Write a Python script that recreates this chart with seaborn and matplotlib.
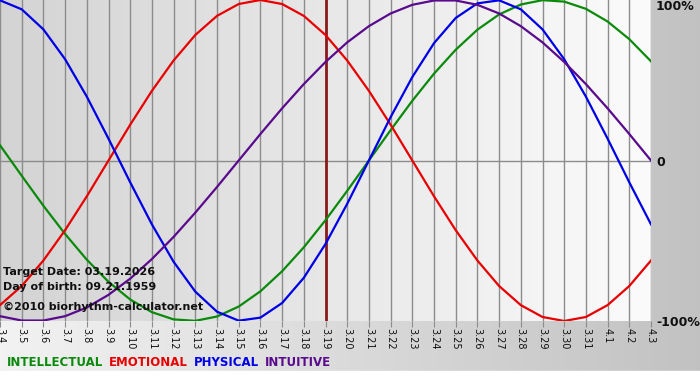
import numpy as np
import pandas as pd
import matplotlib
matplotlib.use('Agg')
import matplotlib.pyplot as plt
import seaborn as sns

# dates shown on the x axis (March 4 .. April 3)
dates = ['3.4', '3.5', '3.6', '3.7', '3.8', '3.9', '3.10', '3.11', '3.12', '3.13',
         '3.14', '3.15', '3.16', '3.17', '3.18', '3.19', '3.20', '3.21', '3.22', '3.23',
         '3.24', '3.25', '3.26', '3.27', '3.28', '3.29', '3.30', '3.31', '4.1', '4.2', '4.3']

# cycle values (fraction of 100%)
intellectual = [0.095, -0.095, -0.282, -0.458, -0.618, -0.756, -0.866, -0.945, -0.990, -0.999,
                -0.972, -0.910, -0.815, -0.690, -0.541, -0.372, -0.189, 0.0, 0.189, 0.372,
                0.541, 0.690, 0.815, 0.910, 0.972, 0.999, 0.990, 0.945, 0.866, 0.756, 0.618]
emotional = [-0.901, -0.782, -0.623, -0.434, -0.223, 0.0, 0.223, 0.434, 0.623, 0.782,
             0.901, 0.975, 1.0, 0.975, 0.901, 0.782, 0.623, 0.434, 0.223, 0.0,
             -0.223, -0.434, -0.623, -0.782, -0.901, -0.975, -1.0, -0.975, -0.901, -0.782, -0.623]
physical = [0.998, 0.942, 0.817, 0.631, 0.398, 0.136, -0.136, -0.398, -0.631, -0.817,
            -0.942, -0.998, -0.979, -0.888, -0.731, -0.520, -0.270, 0.0, 0.270, 0.520,
            0.731, 0.888, 0.979, 0.998, 0.942, 0.817, 0.631, 0.398, 0.136, -0.136, -0.398]
intuitive = [-0.970, -0.997, -0.997, -0.970, -0.916, -0.837, -0.736, -0.614, -0.476, -0.325,
             -0.165, 0.0, 0.165, 0.325, 0.476, 0.614, 0.736, 0.837, 0.916, 0.970,
             0.997, 0.997, 0.970, 0.916, 0.837, 0.736, 0.614, 0.476, 0.325, 0.165, 0.0]

target_label = '3.19'
cycles = ['INTELLECTUAL', 'EMOTIONAL', 'PHYSICAL', 'INTUITIVE']
colors = {'INTELLECTUAL': '#0a8a0a', 'EMOTIONAL': '#e80000',
          'PHYSICAL': '#0000e6', 'INTUITIVE': '#5a0a8c'}

# long table for seaborn
day = np.arange(len(dates))
df = pd.DataFrame({
    'day': np.tile(day, 4),
    'value': intellectual + emotional + physical + intuitive,
    'cycle': np.repeat(cycles, len(dates)),
})


def hgrad(g0, g1, n=256):
    # horizontal grey ramp as an RGB image row
    g = np.linspace(g0, g1, n)
    return np.dstack([g, g, g]).reshape(1, n, 3)


W, H = 700, 380
fig = plt.figure(figsize=(W / 100, H / 100), dpi=100)

# outer background: light on the left, grey on the right
bg = fig.add_axes([0, 0, 1, 1], zorder=-10)
bg.imshow(hgrad(0.95, 0.76), extent=[0, 1, 0, 1], aspect='auto')
bg.axhspan(0, 9 / H, color='white')
bg.set_xlim(0, 1)
bg.set_ylim(0, 1)
bg.axis('off')

# plot area
left, right, top, bottom = 0, 651, 0, 321
ax = fig.add_axes([left / W, 1 - bottom / H, (right - left) / W, (bottom - top) / H])
ax.imshow(hgrad(0.83, 0.985), extent=[0, len(dates) - 1, -1, 1], aspect='auto', zorder=0)

for d in day:
    ax.axvline(d, color='#8c8c8c', lw=1.0, zorder=1)
ax.axhline(0, color='#8c8c8c', lw=1.0, zorder=1)
ax.axvline(dates.index(target_label), color='#8b1a1a', lw=2.0, zorder=2)

sns.lineplot(data=df, x='day', y='value', hue='cycle', hue_order=cycles,
             palette=colors, linewidth=1.6, legend=False, ax=ax, zorder=3)

ax.set_xlim(0, len(dates) - 1)
ax.set_ylim(-1, 1)
ax.set_xticks(day)
ax.set_xticklabels(dates, rotation=-90, fontsize=7, color='#101010')
ax.tick_params(axis='x', length=4, color='#8c8c8c', pad=1)
ax.set_yticks([])
ax.set_xlabel('')
ax.set_ylabel('')
for s in ax.spines.values():
    s.set_visible(False)

# right-hand scale labels
for txt, ypx in [('100%', 7), ('0', 162), ('-100%', 322)]:
    fig.text(656 / W, 1 - ypx / H, txt, fontsize=9, fontweight='bold',
             va='center', ha='left', color='#101010')

# info text inside the plot
for txt, ypx in [('Target Date: 03.19.2026', 272), ('Day of birth: 09.21.1959', 287),
                 ('\u00a92010 biorhythm-calculator.net', 307)]:
    fig.text(3 / W, 1 - ypx / H, txt, fontsize=8, fontweight='bold',
             va='center', ha='left', color='#101010')

# coloured legend words along the bottom
xpx = 7
for name in cycles:
    t = fig.text(xpx / W, 1 - 362 / H, name, fontsize=8.5, fontweight='bold',
                 color=colors[name], va='center', ha='left')
    fig.canvas.draw()
    bb = t.get_window_extent()
    xpx += bb.width + 6

fig.savefig('out.png', dpi=100)
